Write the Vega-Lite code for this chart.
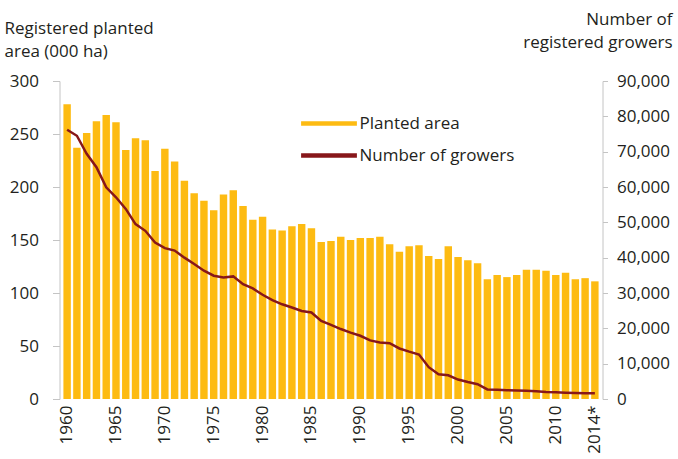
{
  "$schema": "https://vega.github.io/schema/vega-lite/v6.json",
  "width": 543,
  "height": 318,
  "autosize": {"type": "none"},
  "padding": {"left": 59.5, "top": 81, "right": 75.5, "bottom": 60},
  "background": "white",
  "config": {
    "view": {"stroke": null},
    "font": "Open Sans",
    "axis": {
      "labelFont": "Open Sans",
      "labelFontSize": 17,
      "labelColor": "#231f20",
      "titleFont": "Open Sans",
      "titleFontSize": 17,
      "titleFontWeight": "normal",
      "titleColor": "#231f20",
      "grid": false,
      "domainColor": "#c4c4c4",
      "tickColor": "#c4c4c4"
    }
  },
  "data": {
    "values": [
      {"year": 1960, "area": 278, "growers": 76200},
      {"year": 1961, "area": 237, "growers": 74500},
      {"year": 1962, "area": 251, "growers": 69400},
      {"year": 1963, "area": 262, "growers": 65600},
      {"year": 1964, "area": 268, "growers": 59900},
      {"year": 1965, "area": 261, "growers": 57100},
      {"year": 1966, "area": 235, "growers": 53800},
      {"year": 1967, "area": 246, "growers": 49500},
      {"year": 1968, "area": 244, "growers": 47600},
      {"year": 1969, "area": 215, "growers": 44300},
      {"year": 1970, "area": 236, "growers": 42700},
      {"year": 1971, "area": 224, "growers": 42000},
      {"year": 1972, "area": 206, "growers": 40000},
      {"year": 1973, "area": 194, "growers": 38200},
      {"year": 1974, "area": 187, "growers": 36300},
      {"year": 1975, "area": 178, "growers": 34900},
      {"year": 1976, "area": 193, "growers": 34400},
      {"year": 1977, "area": 197, "growers": 34700},
      {"year": 1978, "area": 182, "growers": 32500},
      {"year": 1979, "area": 169, "growers": 31300},
      {"year": 1980, "area": 172, "growers": 29500},
      {"year": 1981, "area": 160, "growers": 28000},
      {"year": 1982, "area": 159, "growers": 26800},
      {"year": 1983, "area": 163, "growers": 25900},
      {"year": 1984, "area": 165, "growers": 24900},
      {"year": 1985, "area": 161, "growers": 24500},
      {"year": 1986, "area": 148, "growers": 22100},
      {"year": 1987, "area": 149, "growers": 21000},
      {"year": 1988, "area": 153, "growers": 19800},
      {"year": 1989, "area": 150, "growers": 18800},
      {"year": 1990, "area": 152, "growers": 17900},
      {"year": 1991, "area": 152, "growers": 16600},
      {"year": 1992, "area": 153, "growers": 16000},
      {"year": 1993, "area": 146, "growers": 15800},
      {"year": 1994, "area": 139, "growers": 14300},
      {"year": 1995, "area": 144, "growers": 13400},
      {"year": 1996, "area": 145, "growers": 12600},
      {"year": 1997, "area": 135, "growers": 9000},
      {"year": 1998, "area": 132, "growers": 7000},
      {"year": 1999, "area": 144, "growers": 6700},
      {"year": 2000, "area": 134, "growers": 5500},
      {"year": 2001, "area": 131, "growers": 4800},
      {"year": 2002, "area": 128, "growers": 4200},
      {"year": 2003, "area": 113, "growers": 2700},
      {"year": 2004, "area": 117, "growers": 2600},
      {"year": 2005, "area": 115, "growers": 2500},
      {"year": 2006, "area": 117, "growers": 2400},
      {"year": 2007, "area": 122, "growers": 2300},
      {"year": 2008, "area": 122, "growers": 2200},
      {"year": 2009, "area": 121, "growers": 2000},
      {"year": 2010, "area": 117, "growers": 1900},
      {"year": 2011, "area": 119, "growers": 1800},
      {"year": 2012, "area": 113, "growers": 1700},
      {"year": 2013, "area": 114, "growers": 1600},
      {"year": 2014, "area": 111, "growers": 1600}
    ]
  },
  "encoding": {
    "x": {
      "field": "year",
      "type": "ordinal",
      "scale": {"paddingInner": 0.24, "paddingOuter": 0.4},
      "axis": {
        "title": null,
        "values": [1960, 1965, 1970, 1975, 1980, 1985, 1990, 1995, 2000, 2005, 2010, 2014],
        "labelExpr": "datum.value == 2014 ? '2014*' : '' + datum.value",
        "labelAngle": 270,
        "domain": false,
        "ticks": false,
        "labelPadding": 6
      }
    }
  },
  "layer": [
    {
      "mark": {"type": "bar"},
      "encoding": {
        "y": {
          "field": "area",
          "type": "quantitative",
          "scale": {"domain": [0, 300]},
          "axis": {
            "values": [0, 50, 100, 150, 200, 250, 300],
            "tickSize": 7,
            "labelPadding": 14,
            "title": ["Registered planted", "area (000 ha)"],
            "titleAngle": 0,
            "titleAlign": "left",
            "titleBaseline": "alphabetic",
            "titleX": -55.5,
            "titleY": -48,
            "titleLineHeight": 23
          }
        },
        "color": {
          "datum": "Planted area",
          "type": "nominal",
          "scale": {"domain": ["Planted area", "Number of growers"], "range": ["#fdbb12", "#87171a"]},
          "legend": {
            "orient": "none",
            "legendX": 258,
            "legendY": 31,
            "title": null,
            "symbolType": "M-3.1,0H3.1",
            "symbolSize": 324,
            "symbolStrokeWidth": 4.5,
            "labelOffset": 19,
            "rowPadding": 11,
            "labelFont": "Open Sans",
            "labelFontSize": 17,
            "labelColor": "#231f20",
            "padding": 0
          }
        }
      }
    },
    {
      "mark": {"type": "line", "strokeWidth": 2.5},
      "encoding": {
        "y": {
          "field": "growers",
          "type": "quantitative",
          "scale": {"domain": [0, 90000]},
          "axis": {
            "orient": "right",
            "values": [0, 10000, 20000, 30000, 40000, 50000, 60000, 70000, 80000, 90000],
            "format": ",.0f",
            "tickSize": 5,
            "labelPadding": 9,
            "title": ["Number of", "registered growers"],
            "titleAngle": 0,
            "titleAlign": "right",
            "titleBaseline": "alphabetic",
            "titleX": 69.5,
            "titleY": -57,
            "titleLineHeight": 23
          }
        },
        "color": {"datum": "Number of growers", "type": "nominal"}
      }
    }
  ],
  "resolve": {"scale": {"y": "independent"}}
}
